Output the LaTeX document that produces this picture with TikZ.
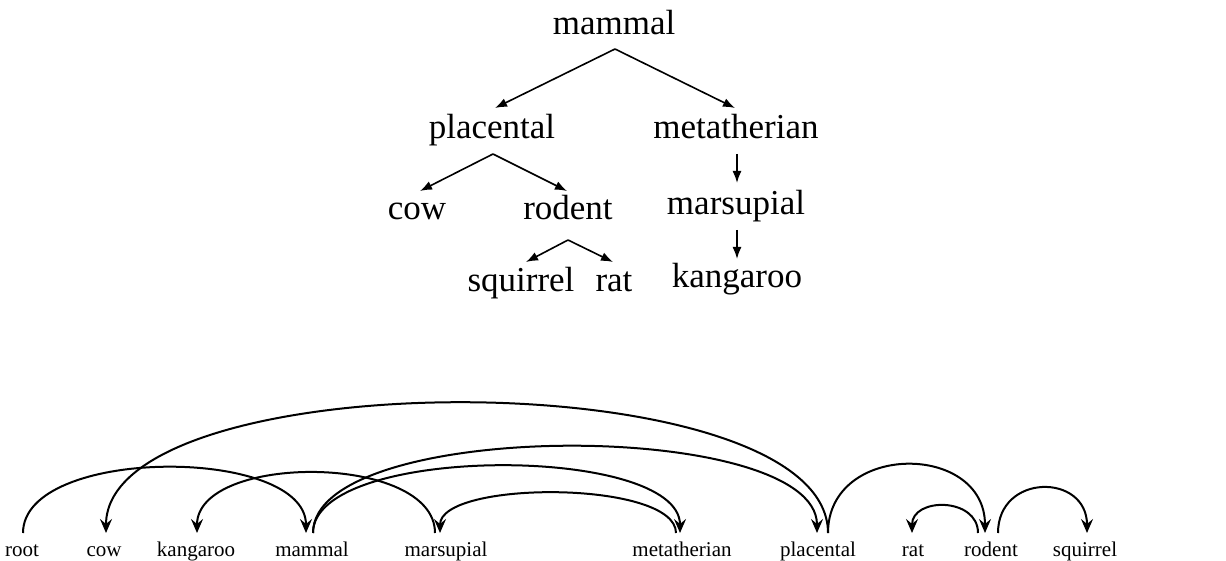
\documentclass[tikz,border=0pt]{standalone}
\usepackage{fontspec}
\setmainfont{Liberation Serif}
\usetikzlibrary{arrows.meta,calc}
\tikzset{
  big/.style={inner sep=0pt, anchor=base, font=\fontsize{35}{40}\selectfont},
  small/.style={inner sep=0pt, anchor=base, font=\fontsize{21}{25}\selectfont},
  treeedge/.style={line width=1.6pt, -{Latex[length=12pt,width=9pt]}},
  dep/.style={line width=2pt, -{Stealth[length=14pt,width=12pt,inset=5pt]}}
}
\begin{document}
\begin{tikzpicture}[x=1pt,y=-1pt]
\useasboundingbox (0,0) rectangle (1226,561);
% tree
\node[big] (tm) at (614,35) {mammal};
\node[big] (tp) at (492,139) {placental};
\node[big] (tmt) at (736,139) {metatherian};
\node[big] (tc) at (417,220) {cow};
\node[big] (tr) at (568,220) {rodent};
\node[big] (tmar) at (736,215) {marsupial};
\node[big] (tk) at (737,288) {kangaroo};
\node[big] (ts) at (521,292) {squirrel};
\node[big] (trat) at (614,292) {rat};
\draw[treeedge] ([shift={(1,14)}]tm.base) -- ([shift={(3,-31)}]tp.base);
\draw[treeedge] ([shift={(1,14)}]tm.base) -- ([shift={(-1,-31)}]tmt.base);
\draw[treeedge] ([shift={(1,15)}]tp.base) -- ([shift={(3,-29)}]tc.base);
\draw[treeedge] ([shift={(1,15)}]tp.base) -- ([shift={(-1,-29)}]tr.base);
\draw[treeedge] ([shift={(1,15)}]tmt.base) -- ([shift={(1,-32)}]tmar.base);
\draw[treeedge] ([shift={(1,15)}]tmar.base) -- ([shift={(0,-29)}]tk.base);
\draw[treeedge] ([shift={(0,20)}]tr.base) -- ([shift={(5,-30)}]ts.base);
\draw[treeedge] ([shift={(0,20)}]tr.base) -- ([shift={(-1,-30)}]trat.base);
% dependency row
\node[small] (root) at (22,556) {root};
\node[small] (cow) at (104,556) {cow};
\node[small] (kan) at (196,556) {kangaroo};
\node[small] (mam) at (312,556) {mammal};
\node[small] (mar) at (446,556) {marsupial};
\node[small] (met) at (682,556) {metatherian};
\node[small] (pla) at (818,556) {placental};
\node[small] (rat) at (913,556) {rat};
\node[small] (rod) at (991,556) {rodent};
\node[small] (squ) at (1085,556) {squirrel};
\draw[dep] ([shift={(1,-23)}]root.base) .. controls +(0,-87) and +(0,-87) .. ([shift={(-6,-23)}]mam.base);
\draw[dep] ([shift={(10,-23)}]pla.base) .. controls +(0,-173) and +(0,-173) .. ([shift={(2,-23)}]cow.base);
\draw[dep] ([shift={(-11,-23)}]mar.base) .. controls +(0,-80) and +(0,-80) .. ([shift={(1,-23)}]kan.base);
\draw[dep] ([shift={(1,-23)}]mam.base) .. controls +(0,-115) and +(0,-115) .. ([shift={(-1,-23)}]pla.base);
\draw[dep] ([shift={(1,-23)}]mam.base) .. controls +(0,-89) and +(0,-89) .. ([shift={(-2,-23)}]met.base);
\draw[dep] ([shift={(-6,-23)}]met.base) .. controls +(0,-53) and +(0,-53) .. ([shift={(-6,-23)}]mar.base);
\draw[dep] ([shift={(10,-23)}]pla.base) .. controls +(0,-91) and +(0,-91) .. ([shift={(-6,-23)}]rod.base);
\draw[dep] ([shift={(-13,-23)}]rod.base) .. controls +(0,-36) and +(0,-36) .. ([shift={(-1,-23)}]rat.base);
\draw[dep] ([shift={(7,-23)}]rod.base) .. controls +(0,-60) and +(0,-60) .. ([shift={(2,-23)}]squ.base);
\end{tikzpicture}
\end{document}
